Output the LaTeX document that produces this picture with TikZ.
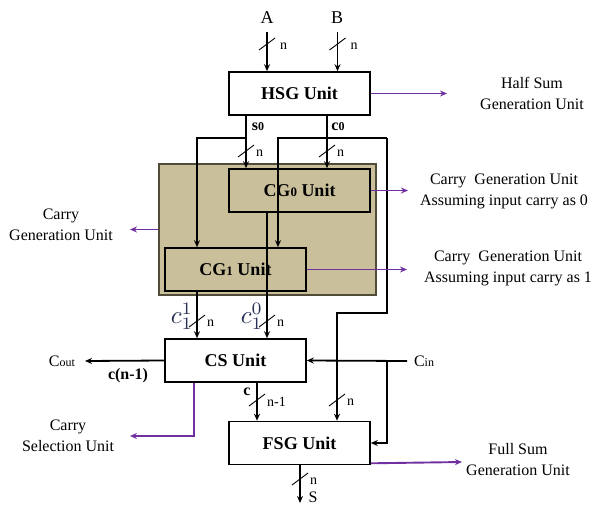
\documentclass[tikz,border=0pt]{standalone}
\usepackage{fontspec}
\usepackage{graphicx}
\setmainfont{Liberation Serif}
\usetikzlibrary{arrows.meta,calc}
\definecolor{khakifill}{RGB}{201,192,155}
\definecolor{cgborder}{RGB}{80,76,55}
\definecolor{purp}{RGB}{112,48,160}
\definecolor{mathblue}{RGB}{40,48,85}
\newcommand\busmark[3]{%
  \draw[line width=0.9pt] ($(#1)+(-8,6)$) -- ($(#1)+(8,-6)$);
  \node[smalltxt,anchor=west,inner sep=0pt] at ($(#1)+(#3,2)$) {#2};}
\begin{document}
\begin{tikzpicture}[x=1pt,y=-1pt,
  unitbox/.style={draw=black,line width=1.6pt,minimum width=141pt,minimum height=43pt,
    inner sep=0pt,fill=white,font=\fontsize{18}{20}\selectfont\bfseries},
  sig/.style={draw=black,line width=1.8pt},
  sigarrow/.style={sig,-{Stealth[length=7pt,width=6pt]}},
  note/.style={draw=purp,line width=1.9pt,-{Stealth[length=7pt,width=6pt]}},
  lab/.style={font=\fontsize{16}{21}\selectfont,align=center,inner sep=0pt},
  smalltxt/.style={font=\fontsize{14}{15}\selectfont},
  sigtxt/.style={font=\fontsize{16}{18}\selectfont\bfseries,inner sep=0pt},
  mathtxt/.style={text=mathblue,inner sep=0pt,anchor=east}
]
\useasboundingbox (0,0) rectangle (592,506);

% x/y helper coordinates
\coordinate (s0x) at (246,0);
\coordinate (c0x) at (327,0);
\coordinate (l1x) at (197,0);
\coordinate (r1x) at (278,0);
\coordinate (r2x) at (387,0);
\coordinate (fx)  at (337,0);
\coordinate (m0x) at (267,0);
\coordinate (cx)  at (257,0);
\coordinate (sx)  at (300,0);
\coordinate (px)  at (194,0);
\coordinate (hy)  at (0,138);
\coordinate (ky)  at (0,313);

% boxes
\node[draw=cgborder,fill=khakifill,line width=1.7pt,minimum width=217pt,minimum height=131pt,inner sep=0pt] (cgu) at (267.5,229.5) {};
\node[unitbox] (hsg) at (299.5,93.5) {HSG Unit};
\node[unitbox,fill=khakifill] (cg0) at (299.5,190.5) {CG{\fontsize{13}{14}\selectfont 0} Unit};
\node[unitbox,fill=khakifill] (cg1) at (235.5,269.5) {CG{\fontsize{13}{14}\selectfont 1} Unit};
\node[unitbox] (cs) at (235.5,360.5) {CS Unit};
\node[unitbox] (fsg) at (299.5,443) {FSG Unit};

% inputs A, B
\node[font=\fontsize{18}{20}\selectfont,inner sep=0pt] (A) at (267,18) {A};
\node[font=\fontsize{18}{20}\selectfont,inner sep=0pt] (B) at (337,18) {B};
\coordinate (atop) at (267,32);
\coordinate (btop) at (337.5,32);
\draw[sigarrow] (atop) -- (hsg.north -| atop);
\draw[sigarrow] (btop) -- (hsg.north -| btop);
\busmark{267,44}{n}{13}
\busmark{337.5,44}{n}{13}

% s0 and c0
\node[sigtxt] (s0) at (258,127) {s{\fontsize{12}{13}\selectfont 0}};
\node[sigtxt] (c0) at (338,127) {c{\fontsize{12}{13}\selectfont 0}};
\draw[sigarrow] (hsg.south -| s0x) -- (cg0.north -| s0x);
\draw[sigarrow] (hsg.south -| c0x) -- (cg0.north -| c0x);
\draw[sigarrow] (s0x |- hy) -| (cg1.north -| l1x);
\draw[sigarrow] (r2x |- hy) -- (r1x |- hy) -- (cg1.north -| r1x);
\draw[sigarrow] (r2x |- hy) -- (r2x |- ky) -- (fx |- ky) -- (fsg.north -| fx);
\busmark{246,151}{n}{10}
\busmark{327,151}{n}{10}

% CG outputs
\draw[sigarrow] (cg1.south -| l1x) -- (cs.north -| l1x);
\draw[sigarrow] (cg0.south -| m0x) -- (cs.north -| m0x);
\node[mathtxt] (c11) at (193,316) {\scalebox{2.5}{$c_1^1$}};
\node[mathtxt] (c10) at (263,316) {\scalebox{2.5}{$c_1^0$}};
\busmark{197,321}{n}{10}
\busmark{267,321}{n}{10}

% Cout and Cin
\node[font=\fontsize{16}{18}\selectfont,inner sep=0pt] (cout) at (62,361) {C{\fontsize{12}{13}\selectfont out}};
\coordinate (coutend) at (85,361);
\draw[sigarrow] (cs.west) -- (coutend);
\node[sigtxt] (cn1) at (128,376) {c(n-1)};
\node[font=\fontsize{16}{18}\selectfont,inner sep=0pt] (cin) at (424,361) {C{\fontsize{12}{13}\selectfont in}};
\coordinate (cinstart) at (407,361);
\draw[sigarrow] (cinstart) -- (cs.east);
\draw[sigarrow] (r2x |- cs.east) |- (fsg.east);

% CS to FSG
\draw[sigarrow] (cs.south -| cx) -- (fsg.north -| cx);
\node[sigtxt] (clab) at (247,392) {c};
\busmark{257,400}{n-1}{10}
\busmark{337,400}{n}{10}

% output S
\coordinate (send) at (300,503);
\draw[sigarrow] (fsg.south -| sx) -- (send);
\busmark{300,479}{n}{10}
\node[font=\fontsize{16}{18}\selectfont,inner sep=0pt] (S) at (313,497) {S};

% annotations
\coordinate (hsgend) at (447,93.5);
\draw[note] (hsg.east) -- (hsgend);
\node[lab] (hsgl) at (532,93) {Half Sum\\Generation Unit};

\coordinate (cg0end) at (408,190.5);
\draw[note] (cg0.east) -- (cg0end);
\node[lab] (cg0l) at (504,191.5) {Carry\ \ Generation Unit\\Assuming input carry as 0};

\coordinate (cg1end) at (407,269.5);
\draw[note] (cg1.east) -- (cg1end);
\node[lab] (cg1l) at (508,268.5) {Carry\ \ Generation Unit\\Assuming input carry as 1};

\coordinate (cguend) at (130,229.5);
\draw[note] (cgu.west) -- (cguend);
\node[lab] (cgul) at (61,225) {Carry\\Generation Unit};

\coordinate (csend) at (130,436);
\draw[note] (cs.south -| px) |- (csend);
\node[lab] (csl) at (68,436) {Carry\\Selection Unit};

\coordinate (fsgend) at (462,462);
\draw[note] ([yshift=2pt]fsg.south east) -- (fsgend);
\node[lab] (fsgl) at (518,460) {Full Sum\\Generation Unit};
\end{tikzpicture}
\end{document}
